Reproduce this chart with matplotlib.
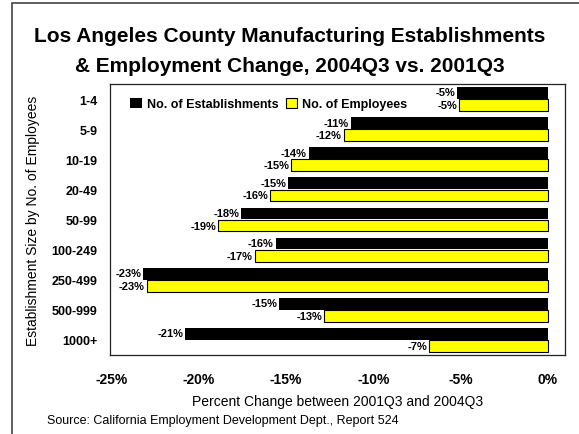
import numpy as np
import matplotlib
matplotlib.use("Agg")
import matplotlib.pyplot as plt
from matplotlib.patches import Rectangle

plt.rcParams['font.family'] = ['Liberation Sans', 'DejaVu Sans']

sizes = ["1-4", "5-9", "10-19", "20-49", "50-99", "100-249", "250-499", "500-999", "1000+"]
establishments = [-5.2, -11.3, -13.7, -14.9, -17.6, -15.6, -23.2, -15.4, -20.8]
employees = [-5.1, -11.7, -14.7, -15.9, -18.9, -16.8, -23.0, -12.8, -6.8]
xticks = [-25, -20, -15, -10, -5, 0]

fig = plt.figure(figsize=(5.79, 4.35), dpi=100)
# outer border of the chart area
fig.patches.append(Rectangle((12 / 579, -0.1), 1.2, 1 - 4 / 435 + 0.1, transform=fig.transFigure,
                             fill=False, edgecolor="#444444", linewidth=1.2))

ax = fig.add_axes([110 / 579, 1 - 356 / 435, (565 - 110) / 579, (356 - 85) / 435])
y = np.arange(len(sizes))
h = 0.39
ax.barh(y - 0.2, establishments, height=h, color="black", label="No. of Establishments")
ax.barh(y + 0.2, employees, height=h, color="#ffff00", edgecolor="black", linewidth=0.8,
        label="No. of Employees")

for i in range(len(sizes)):
    ax.text(establishments[i] - 0.1, y[i] - 0.22, f"{round(establishments[i])}%", ha="right", va="center",
            fontsize=8, fontweight="bold")
    ax.text(employees[i] - 0.1, y[i] + 0.2, f"{round(employees[i])}%", ha="right", va="center",
            fontsize=8, fontweight="bold")

ax.set_xlim(-25.1, 1.0)
ax.set_ylim(len(sizes) - 0.5, -0.5)
ax.set_yticks(y)
ax.set_yticklabels(sizes, fontsize=9, fontweight="bold")
ax.set_xticks(xticks)
ax.set_xticklabels([f"{t}%" for t in xticks], fontsize=10, fontweight="bold")
ax.tick_params(length=0)
ax.tick_params(axis="y", pad=9)
ax.tick_params(axis="x", pad=12)
for s in ax.spines.values():
    s.set_linewidth(0.9)
    s.set_color("#222222")

ax.set_xlabel("Percent Change between 2001Q3 and 2004Q3", fontsize=10, labelpad=6)
ax.set_ylabel("Establishment Size by No. of Employees", fontsize=10, labelpad=8)

leg = ax.legend(loc="upper left", bbox_to_anchor=(0.02, 0.99), ncol=2, frameon=False,
                prop={"size": 9, "weight": "bold"}, handlelength=0.9, handleheight=0.9,
                handletextpad=0.4, columnspacing=0.6)

fig.text(0.5, 1 - 37 / 435, "Los Angeles County Manufacturing Establishments", ha="center", va="center",
         fontsize=15, fontweight="bold")
fig.text(0.5, 1 - 66 / 435, "& Employment Change, 2004Q3 vs. 2001Q3", ha="center", va="center",
         fontsize=15, fontweight="bold")
fig.text(47 / 579, 1 - 421 / 435, "Source: California Employment Development Dept., Report 524",
         ha="left", va="center", fontsize=9)

fig.savefig("out.png", dpi=100)
